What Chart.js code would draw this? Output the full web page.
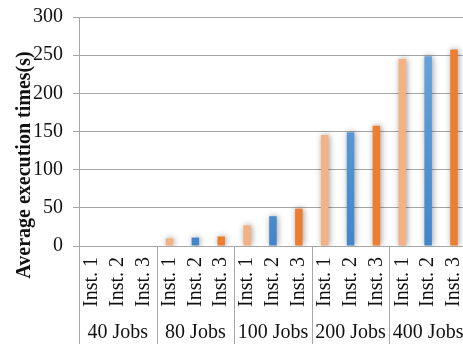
<!DOCTYPE html>
<html><head><meta charset="utf-8">
<style>html,body{margin:0;padding:0;overflow:hidden;background:#fff;width:463px;height:344px}
#wrap{width:489px;height:344px}</style>
<script src="https://cdn.jsdelivr.net/npm/chart.js@4.4.0/dist/chart.umd.min.js"></script>
</head><body><div id="wrap"><canvas id="c" width="489" height="344"></canvas></div>
<script>
const groups = ['40 Jobs', '80 Jobs', '100 Jobs', '200 Jobs', '400 Jobs'];
const instances = ['Inst. 1', 'Inst. 2', 'Inst. 3'];
const inst1 = [0, 10, 27, 145.5, 245];
const inst2 = [0, 11, 39, 149, 248.5];
const inst3 = [0, 12.5, 49, 157.5, 257.5];
const yTitle = 'Average execution times(s)';

const seriesArrays = [inst1, inst2, inst3];
const labels = [], values = [], seriesIdx = [];
groups.forEach((g, i) => {
  seriesArrays.forEach((arr, k) => { labels.push(instances[k]); values.push(arr[i]); seriesIdx.push(k); });
});

const SERIF = "'Liberation Serif', 'Times New Roman', serif";
const GRID = '#a6a6a6';

function barColor(ctx) {
  const k = seriesIdx[ctx.dataIndex];
  if (k === 0) return '#F4B183';
  if (k === 2) return '#ED7D31';
  const ca = ctx.chart.chartArea;
  if (!ca) return '#5B9BD5';
  const g = ctx.chart.ctx.createLinearGradient(0, ca.top, 0, ca.bottom);
  g.addColorStop(0, '#6FA9DE');
  g.addColorStop(1, '#4285C8');
  return g;
}

const extras = {
  id: 'extras',
  beforeDatasetsDraw(chart) {
    const c = chart.ctx;
    c.save();
    c.shadowColor = 'rgba(0,0,0,0.4)';
    c.shadowBlur = 6;
    c.shadowOffsetX = 1;
    c.shadowOffsetY = 0;
  },
  afterDatasetsDraw(chart) { chart.ctx.restore(); },
  afterDraw(chart) {
    const c = chart.ctx, xs = chart.scales.x, ys = chart.scales.y;
    const y0 = Math.round(ys.getPixelForValue(0)) + 0.5;
    c.save();
    c.strokeStyle = GRID; c.lineWidth = 1;
    for (let i = 0; i < groups.length; i++) {
      let xp = i === 0 ? chart.chartArea.left : (xs.getPixelForValue(i * 3 - 1) + xs.getPixelForValue(i * 3)) / 2;
      xp = Math.round(xp) + 0.5;
      c.beginPath(); c.moveTo(xp, y0); c.lineTo(xp, chart.height); c.stroke();
    }
    c.fillStyle = '#111';
    c.font = '20px ' + SERIF;
    c.textAlign = 'center'; c.textBaseline = 'alphabetic';
    groups.forEach((g, i) => { c.fillText(g, xs.getPixelForValue(i * 3 + 1), 338); });
    c.translate(25, 165);
    c.rotate(-Math.PI / 2);
    c.font = 'bold 20px ' + SERIF;
    c.textBaseline = 'middle';
    c.fillText(yTitle, 0, 0);
    c.restore();
  }
};

new Chart(document.getElementById('c'), {
  type: 'bar',
  data: { labels: labels, datasets: [{ data: values, backgroundColor: barColor, borderWidth: 0, barPercentage: 0.29, categoryPercentage: 1 }] },
  options: {
    responsive: false, animation: false,
    layout: { padding: { top: 17, left: 0, right: 0, bottom: 0 } },
    plugins: { legend: { display: false }, tooltip: { enabled: false } },
    scales: {
      x: {
        ticks: { font: { family: SERIF, size: 20 }, color: '#111', minRotation: 90, maxRotation: 90, autoSkip: false, padding: 11 },
        grid: { display: false, drawTicks: false },
        border: { display: false },
        afterFit(s) { s.height = 98; }
      },
      y: {
        min: 0, max: 300,
        ticks: { stepSize: 50, font: { family: SERIF, size: 20 }, color: '#111', padding: 10 },
        grid: { color: GRID, lineWidth: 1, tickLength: 6 },
        border: { color: GRID },
        afterFit(s) { s.width = 79; s.paddingTop = 0; s.paddingBottom = 0; }
      }
    }
  },
  plugins: [extras]
});
</script></body></html>
